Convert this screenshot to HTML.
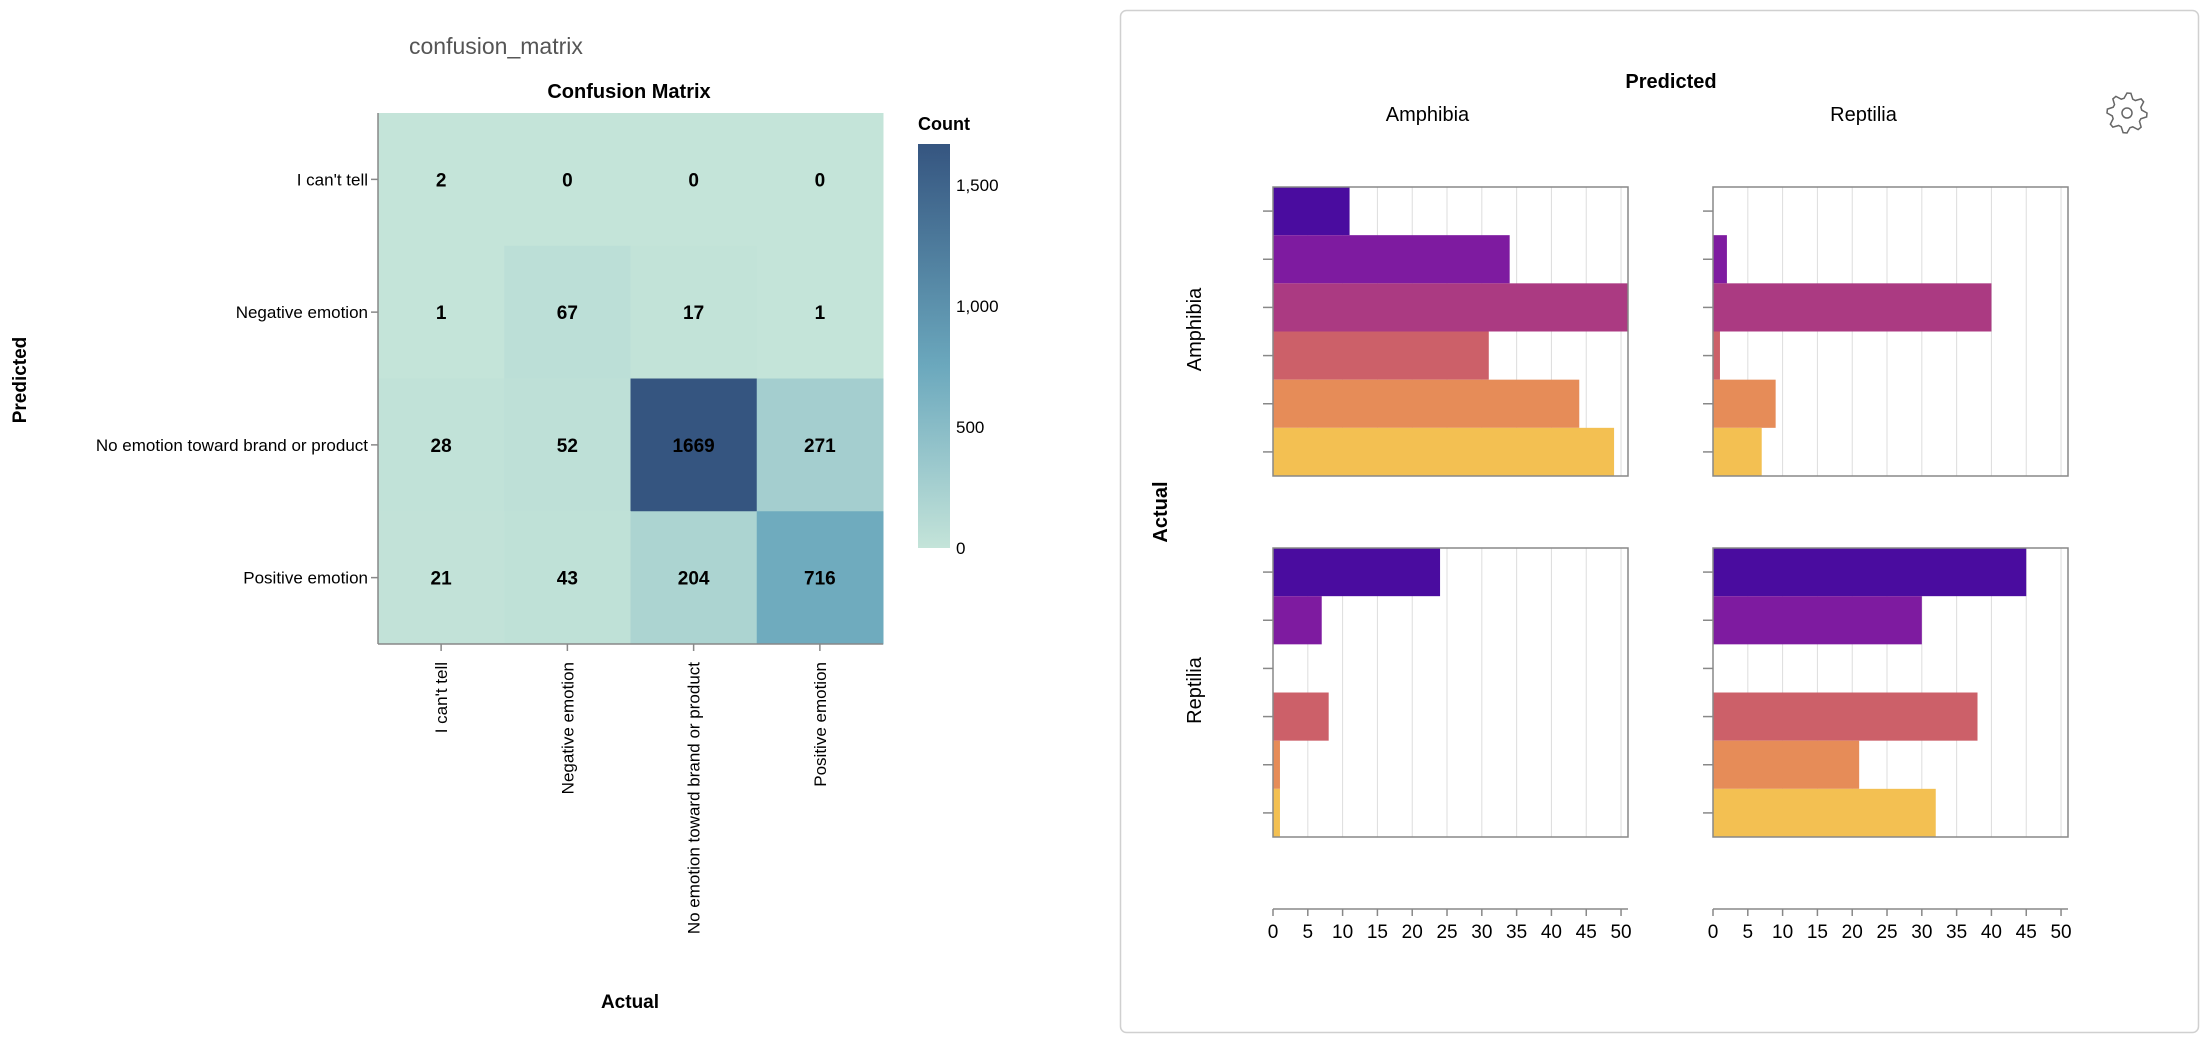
<!DOCTYPE html>
<html><head><meta charset="utf-8"><style>
html,body{margin:0;padding:0;background:#fff;width:2210px;height:1046px;overflow:hidden}
svg{display:block;font-family:"Liberation Sans",Arial,sans-serif}
</style></head><body>
<svg id="root" width="2210" height="1046" xmlns="http://www.w3.org/2000/svg">
<text x="409" y="54" font-size="23" fill="#555">confusion_matrix</text>
<g id="cm"></g>
<g id="fc"></g>
</svg>
<script>
const NS='http://www.w3.org/2000/svg';
function mk(p,t,a,txt){const e=document.createElementNS(NS,t);for(const k in a)e.setAttribute(k,a[k]);if(txt!==undefined)e.textContent=txt;p.appendChild(e);return e;}

// ---- confusion matrix data ----
const cmCategories=["I can't tell","Negative emotion","No emotion toward brand or product","Positive emotion"];
const cmRow0=[2,0,0,0];
const cmRow1=[1,67,17,1];
const cmRow2=[28,52,1669,271];
const cmRow3=[21,43,204,716];
const legendTicks=[0,500,1000,1500];

// ---- facet data ----
const facetCols=["Amphibia","Reptilia"];
const facetRows=["Amphibia","Reptilia"];
const barAA=[11,34,51,31,44,49];
const barAR=[0,2,40,1,9,7];
const barRA=[24,7,0,8,1,1];
const barRR=[45,30,0,38,21,32];
const xTicks=[0,5,10,15,20,25,30,35,40,45,50];

(function(){
const g=document.getElementById('cm');
const rows=[cmRow0,cmRow1,cmRow2,cmRow3];
const X0=378,X1=883,Y0=113,Y1=644;
const cw=(X1-X0)/4,ch=(Y1-Y0)/4;
const vmax=Math.max(...rows.flat());
const c0=[196,228,217],c1=[53,85,128],cm=[107,168,189];
function col(v){const t=v/vmax;let a,b,u;if(t<0.45){a=c0;b=cm;u=t/0.45;}else{a=cm;b=c1;u=(t-0.45)/0.55;}
return 'rgb('+a.map((x,i)=>Math.round(x+(b[i]-x)*u)).join(',')+')';}
mk(g,'text',{x:629,y:98,'font-size':20,'font-weight':'bold','text-anchor':'middle',fill:'#000',},'Confusion Matrix');
rows.forEach((r,i)=>r.forEach((v,j)=>{
 const rc=mk(g,'rect',{x:X0+j*cw,y:Y0+i*ch,width:cw+0.5,height:ch+0.5,fill:col(v)});
 
 
 const t=mk(g,'text',{x:X0+(j+0.5)*cw,y:Y0+(i+0.5)*ch+7,'font-size':19,'font-weight':'bold','text-anchor':'middle',fill:'#000'},String(v));
 
 
}));
mk(g,'line',{x1:X0,y1:Y0,x2:X0,y2:Y1,stroke:'#888','stroke-width':1.5,});
mk(g,'line',{x1:X0,y1:Y1,x2:X1,y2:Y1,stroke:'#888','stroke-width':1.5,});
cmCategories.forEach((c,i)=>{
 const y=Y0+(i+0.5)*ch;
 mk(g,'line',{x1:X0-7,y1:y,x2:X0,y2:y,stroke:'#888','stroke-width':1.5});
 const t=mk(g,'text',{x:X0-10,y:y+6,'font-size':17,'text-anchor':'end',fill:'#000'},c);
 
 
 const x=X0+(i+0.5)*cw;
 mk(g,'line',{x1:x,y1:Y1,x2:x,y2:Y1+7,stroke:'#888','stroke-width':1.5});
 const t2=mk(g,'text',{x:0,y:0,'font-size':17,'text-anchor':'end',fill:'#000',transform:'translate('+(x+6)+','+(Y1+18)+') rotate(-90)'},c);
 
 
});
mk(g,'text',{x:630,y:1008,'font-size':19,'font-weight':'bold','text-anchor':'middle',fill:'#000',},'Actual');
mk(g,'text',{x:0,y:0,'font-size':19,'font-weight':'bold','text-anchor':'middle',fill:'#000',transform:'translate(26,380) rotate(-90)',},'Predicted');
// legend
const LX=918,LY0=144,LY1=548;
const defs=mk(g,'defs',{});
const lg=mk(defs,'linearGradient',{id:'lgd',x1:0,y1:1,x2:0,y2:0});
[0,0.2,0.45,0.7,1].forEach(s=>mk(lg,'stop',{offset:s,'stop-color':col(s*vmax)}));
mk(g,'text',{x:LX,y:130,'font-size':18,'font-weight':'bold',fill:'#000',},'Count');
mk(g,'rect',{x:LX,y:LY0,width:32,height:LY1-LY0,fill:'url(#lgd)',});
legendTicks.forEach(v=>{
 const y=LY1-(LY1-LY0)*v/vmax;
 const t=mk(g,'text',{x:LX+38,y:y+6,'font-size':17,fill:'#000'},v.toLocaleString('en-US'));
 
 
});
})();

(function(){
const g=document.getElementById('fc');
mk(g,'rect',{x:1120.5,y:10.5,width:1078,height:1022,rx:6,fill:'#fff',stroke:'#d0d0d0','stroke-width':1.5,});
const colors=['#4a0c9f','#7e1ba0','#ab3a82','#cc6069','#e68c58','#f3c052'];
const px=[1273,1713],py=[187,548],PW=355,PH=289,XMAX=51;
const data=[[barAA,barAR],[barRA,barRR]];
function xs(v){return v/XMAX*PW;}
mk(g,'text',{x:1671,y:88,'font-size':20,'font-weight':'bold','text-anchor':'middle',fill:'#000',},'Predicted');
facetCols.forEach((c,j)=>{
 const t=mk(g,'text',{x:px[j]+PW/2-27+ (j? 0:4),y:121,'font-size':20,'text-anchor':'middle',fill:'#000'},c);
 
 
});
mk(g,'text',{x:0,y:0,'font-size':20,'font-weight':'bold','text-anchor':'middle',fill:'#000',transform:'translate(1167,512) rotate(-90)',},'Actual');
facetRows.forEach((r,i)=>{
 const t=mk(g,'text',{x:0,y:0,'font-size':20,'text-anchor':'middle',fill:'#000',transform:'translate(1201,'+(py[i]+PH/2-2)+') rotate(-90)'},r);
 
 
 facetCols.forEach((c,j)=>{
  const X=px[j],Y=py[i];
  xTicks.forEach(v=>{ if(v>0) mk(g,'line',{x1:X+xs(v),y1:Y,x2:X+xs(v),y2:Y+PH,stroke:'#ddd','stroke-width':1}); });
  const vals=data[i][j];const bh=PH/vals.length;
  vals.forEach((v,k)=>{
   const b=mk(g,'rect',{x:X,y:Y+k*bh,width:xs(v),height:bh,fill:colors[k]});
   
   
   mk(g,'line',{x1:X-10,y1:Y+(k+0.5)*bh,x2:X,y2:Y+(k+0.5)*bh,stroke:'#888','stroke-width':1.5});
  });
  const f=mk(g,'rect',{x:X,y:Y,width:PW,height:PH,fill:'none',stroke:'#888','stroke-width':1.5});
  
  
 });
});
px.forEach(X=>{
 const AY=909;
 mk(g,'line',{x1:X,y1:AY,x2:X+PW,y2:AY,stroke:'#888','stroke-width':1.5,});
 xTicks.forEach(v=>{
  mk(g,'line',{x1:X+xs(v),y1:AY,x2:X+xs(v),y2:AY+7,stroke:'#888','stroke-width':1.5});
  const t=mk(g,'text',{x:X+xs(v),y:AY+29,'font-size':19,'text-anchor':'middle',fill:'#000'},String(v));
  
  
 });
});
// gear icon
const gear=mk(g,'g',{transform:'translate(2127,113)',});
let d='';const n=8,ro=20,ri=15;
for(let k=0;k<n*4;k++){const a=(k/(n*4))*Math.PI*2;const r=(k%4<2)?ro:ri;d+=(k?'L':'M')+(r*Math.cos(a)).toFixed(2)+','+(r*Math.sin(a)).toFixed(2);}
mk(gear,'path',{d:d+'Z',fill:'none',stroke:'#666','stroke-width':1.5});
mk(gear,'circle',{cx:0,cy:0,r:5,fill:'none',stroke:'#666','stroke-width':1.5});
})();
</script>
</body></html>
